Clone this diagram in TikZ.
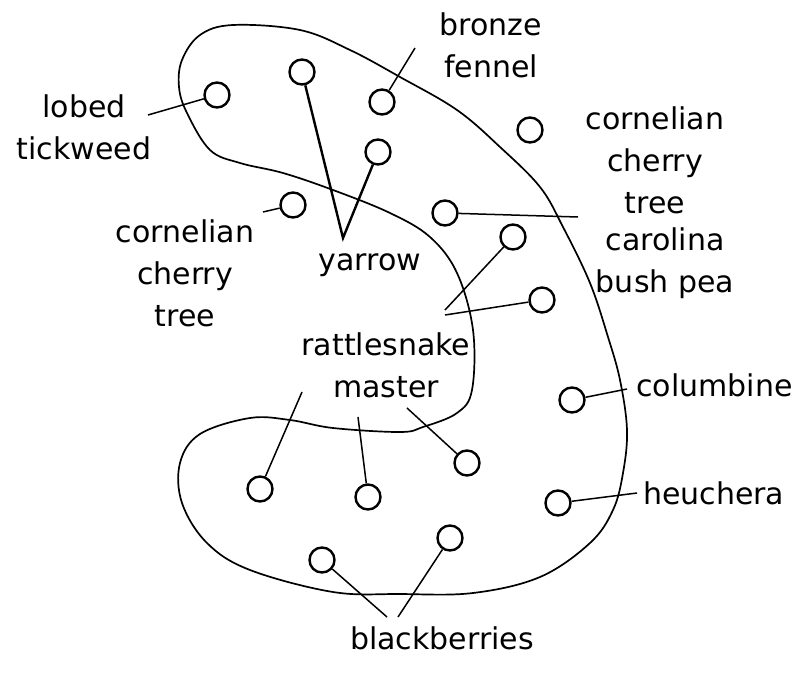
\documentclass[tikz,border=0pt]{standalone}
\usepackage{fontspec}
\setmainfont{DejaVu Sans}

\begin{document}
\begin{tikzpicture}[x=1pt, y=-1pt,
    plant/.style={draw, circle, line width=2.4pt, minimum size=25pt, inner sep=0pt},
    lbl/.style={font=\fontsize{30}{42}\selectfont, align=center, inner sep=0pt},
    lead/.style={line width=1.5pt},
    bed/.style={line width=1.7pt}]
    \useasboundingbox (0,0) rectangle (793,675);

    % Bed outline
    \draw[bed] plot[smooth cycle, tension=0.6] coordinates {
        (233,25) (300,30) (350,50) (400,77) (457,110) (500,147) (540,187)
        (563,227) (590,283) (608,337) (620,380) (627,430) (623,473) (613,510)
        (590,543) (540,577) (473,593) (400,594) (333,592) (250,570) (207,543)
        (182,503) (180,463) (200,434) (250,418) (290,420) (333,428) (400,432)
        (423,427) (457,413) (472,390) (473,330) (457,273) (430,237) (390,213)
        (333,190) (283,173) (240,163) (210,150) (187,113) (179,87) (182,60) (200,35)};

    % Plants
    \node[plant] (tickweed) at (217,95) {};
    \node[plant] (yarrow_a) at (302,72) {};
    \node[plant] (yarrow_b) at (378,152) {};
    \node[plant] (fennel) at (382,102) {};
    \node[plant] (cherry_r) at (530,130) {};
    \node[plant] (cherry_l) at (293,205) {};
    \node[plant] (carolina) at (445,213) {};
    \node[plant] (rattle_a) at (513,237) {};
    \node[plant] (rattle_b) at (542,300) {};
    \node[plant] (rattle_c) at (260,489) {};
    \node[plant] (rattle_d) at (368,497) {};
    \node[plant] (rattle_e) at (467,463) {};
    \node[plant] (columbine) at (572,400) {};
    \node[plant] (heuchera) at (558,503) {};
    \node[plant] (blackb_a) at (322,560) {};
    \node[plant] (blackb_b) at (450,538) {};

    % Labels
    \node[lbl] (lbl_tickweed) at (84,127) {lobed\\tickweed};
    \node[lbl] (lbl_fennel) at (491,45) {bronze\\fennel};
    \node[lbl] (lbl_cherry_r) at (655,160) {cornelian\\cherry\\tree};
    \node[lbl] (lbl_cherry_l) at (185,273) {cornelian\\cherry\\tree};
    \node[lbl] (lbl_yarrow) at (370,265) {yarrow};
    \node[lbl] (lbl_carolina) at (665,263) {carolina\\bush pea};
    \node[lbl] (lbl_rattle) at (386,365) {rattlesnake\\master};
    \node[lbl, anchor=west] (lbl_columbine) at (636,385) {columbine};
    \node[lbl, anchor=west] (lbl_heuchera) at (643,493) {heuchera};
    \node[lbl] (lbl_blackb) at (442,638) {blackberries};

    % Leader ends
    \coordinate (tickweed_end) at (148,115);
    \coordinate (fennel_end) at (415,48);
    \coordinate (cherry_l_end) at (263,212);
    \coordinate (yarrow_tip) at (343,238);
    \coordinate (carolina_end) at (578,217);
    \coordinate (rattle_a_end) at (445,310);
    \coordinate (rattle_b_end) at (445,315);
    \coordinate (rattle_c_end) at (302,392);
    \coordinate (rattle_d_end) at (358,417);
    \coordinate (rattle_e_end) at (407,408);
    \coordinate (columbine_end) at (627,389);
    \coordinate (heuchera_end) at (637,493);
    \coordinate (blackb_a_end) at (387,617);
    \coordinate (blackb_b_end) at (398,617);

    % Leaders
    \draw[lead] (tickweed) -- (tickweed_end);
    \draw[lead] (fennel) -- (fennel_end);
    \draw[lead] (cherry_l) -- (cherry_l_end);
    \draw[line width=2.4pt] (yarrow_a) -- (yarrow_tip) -- (yarrow_b);
    \draw[lead] (carolina) -- (carolina_end);
    \draw[lead] (rattle_a) -- (rattle_a_end);
    \draw[lead] (rattle_b) -- (rattle_b_end);
    \draw[lead] (rattle_c) -- (rattle_c_end);
    \draw[lead] (rattle_d) -- (rattle_d_end);
    \draw[lead] (rattle_e) -- (rattle_e_end);
    \draw[lead] (columbine) -- (columbine_end);
    \draw[lead] (heuchera) -- (heuchera_end);
    \draw[lead] (blackb_a) -- (blackb_a_end);
    \draw[lead] (blackb_b) -- (blackb_b_end);
\end{tikzpicture}
\end{document}
